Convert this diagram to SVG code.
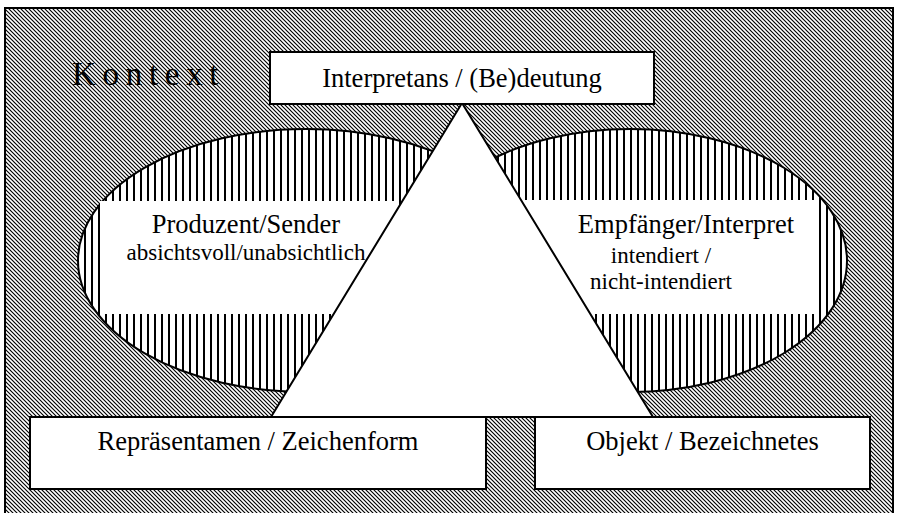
<svg xmlns="http://www.w3.org/2000/svg" width="898" height="513" viewBox="0 0 898 513">
  <defs>
    <pattern id="diag" patternUnits="userSpaceOnUse" width="4" height="4">
      <rect width="4" height="4" fill="#fff"/>
      <path d="M-1,-1 L5,5 M-1,3 L1,5 M3,-1 L5,1" stroke="#000" stroke-width="1.15"/>
    </pattern>
    <pattern id="vert" patternUnits="userSpaceOnUse" width="7" height="10">
      <rect width="7" height="10" fill="#fff"/>
      <rect x="0" y="0" width="2" height="10" fill="#000"/>
    </pattern>
  </defs>
  <style>
    .box { fill: #fff; stroke: #000; stroke-width: 2; }
    .ell { fill: url(#vert); stroke: #000; stroke-width: 2; }
    .t { font-family: "Liberation Serif", "Times New Roman", serif; fill: #000; text-anchor: middle; }
    .big { font-size: 26.5px; }
    .small { font-size: 23px; }
  </style>

  <g id="kontext">
    <rect x="5" y="8" width="888" height="512" fill="url(#diag)" stroke="#000" stroke-width="2"/>
    <text class="t" x="72" y="85" style="text-anchor:start;font-size:33px;letter-spacing:6.7px">Kontext</text>
  </g>

  <g id="produzent">
    <ellipse class="ell" cx="306" cy="260.5" rx="228" ry="131.5"/>
    <rect x="100" y="201" width="295" height="113" fill="#fff"/>
    <text class="t big" x="246" y="233">Produzent/Sender</text>
    <text class="t small" x="246" y="260">absichtsvoll/unabsichtlich</text>
  </g>

  <g id="empfaenger">
    <ellipse class="ell" cx="630" cy="260.5" rx="217" ry="131.5"/>
    <rect x="500" y="200" width="314" height="114" fill="#fff"/>
  </g>

  <g id="connectors">
    <polygon points="462,103 271,417 653,417" fill="#fff" stroke="#000" stroke-width="2" stroke-linejoin="miter"/>
  </g>

  <g id="empfaenger-text">
    <text class="t big" x="686" y="233">Empfänger/Interpret</text>
    <text class="t small" x="661" y="263">intendiert /</text>
    <text class="t small" x="661" y="289">nicht-intendiert</text>
  </g>

  <g id="interpretans">
    <rect class="box" x="270" y="52" width="384" height="52"/>
    <text class="t big" x="462" y="87">Interpretans / (Be)deutung</text>
  </g>

  <g id="repraesentamen">
    <rect class="box" x="30" y="417" width="456" height="72"/>
    <text class="t big" x="258" y="450">Repräsentamen / Zeichenform</text>
  </g>

  <g id="objekt">
    <rect class="box" x="535" y="417" width="335" height="72"/>
    <text class="t big" x="702.5" y="450">Objekt / Bezeichnetes</text>
  </g>
</svg>
